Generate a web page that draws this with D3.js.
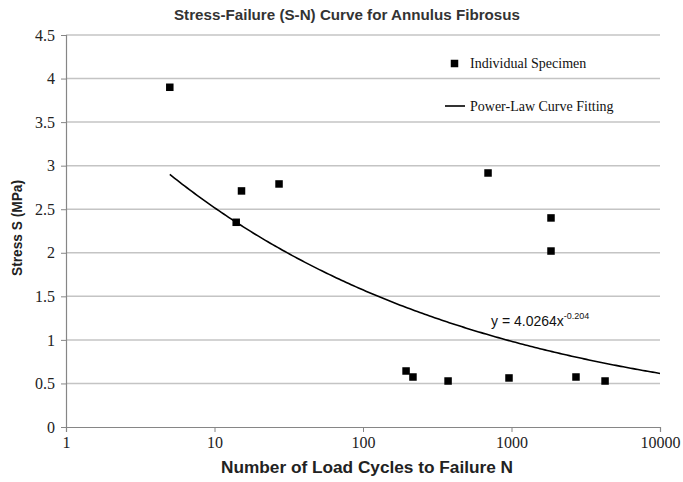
<!DOCTYPE html>
<html><head><meta charset="utf-8">
<script src="https://cdn.jsdelivr.net/npm/d3@7"></script>
<style>body{margin:0;background:#fff}svg{display:block}
.ax text{font-family:'Liberation Serif','Times New Roman',serif !important;font-size:16px;fill:#222}</style>
</head><body>
<script>
// Data
const cycles = [5, 14, 15.2, 27.2, 195, 217, 374, 695, 962, 1845, 1845, 2718, 4266];
const stress = [3.90, 2.35, 2.71, 2.79, 0.643, 0.574, 0.528, 2.916, 0.563, 2.40, 2.02, 0.574, 0.528];
const fitA = 4.0264, fitB = -0.204;
const fitRange = [5, 10000];
const xTicks = [1, 10, 100, 1000, 10000];
const yTicks = [0, 0.5, 1, 1.5, 2, 2.5, 3, 3.5, 4, 4.5];
const title = "Stress-Failure (S-N) Curve for Annulus Fibrosus";
const xTitle = "Number of Load Cycles to Failure N";
const yTitle = "Stress S (MPa)";
const legendLabels = ["Individual Specimen", "Power-Law Curve Fitting"];

const W = 683, H = 482;
const m = {l: 66, r: 23, t: 35, b: 55};
const svg = d3.select("body").append("svg").attr("width", W).attr("height", H);

const x = d3.scaleLog().domain([1, 10000]).range([m.l, W - m.r]);
const y = d3.scaleLinear().domain([0, 4.5]).range([H - m.b, m.t]);

// gridlines
svg.append("g").selectAll("line").data(yTicks.filter(d => d > 0)).join("line")
  .attr("x1", m.l).attr("x2", W - m.r)
  .attr("y1", d => y(d)).attr("y2", d => y(d))
  .attr("stroke", "#c4c4c4").attr("stroke-width", 1.5);

// y axis
const yAxis = svg.append("g").attr("class", "ax").attr("transform", `translate(${m.l},0)`)
  .call(d3.axisLeft(y).tickValues(yTicks).tickFormat(d3.format("")).tickSize(5).tickPadding(6));
// x axis
const xAxis = svg.append("g").attr("class", "ax").attr("transform", `translate(0,${H - m.b})`)
  .call(d3.axisBottom(x).tickValues(xTicks).tickFormat(d3.format("")).tickSize(5).tickPadding(5));
[yAxis, xAxis].forEach(g => {
  g.attr("font-family", "'Liberation Serif','Times New Roman',serif").attr("font-size", 16);
  g.select(".domain").attr("stroke", "#868686").attr("stroke-width", 1.2);
  g.selectAll(".tick line").attr("stroke", "#868686");
});

// fitted curve
const curvePts = d3.range(0, 201).map(i => {
  const lx = Math.log10(fitRange[0]) + (Math.log10(fitRange[1]) - Math.log10(fitRange[0])) * i / 200;
  const xv = Math.pow(10, lx);
  return [xv, fitA * Math.pow(xv, fitB)];
});
svg.append("path").datum(curvePts)
  .attr("d", d3.line().x(d => x(d[0])).y(d => y(d[1])))
  .attr("fill", "none").attr("stroke", "#000").attr("stroke-width", 1.6);

// points
const ms = 7.5;
svg.append("g").selectAll("rect").data(cycles.map((c, i) => [c, stress[i]])).join("rect")
  .attr("x", d => x(d[0]) - ms / 2).attr("y", d => y(d[1]) - ms / 2)
  .attr("width", ms).attr("height", ms).attr("fill", "#000");

// equation
const eq = svg.append("text").attr("x", 491).attr("y", 326)
  .attr("font-family", "'Liberation Sans',Arial,sans-serif").attr("font-size", 14).attr("fill", "#111");
eq.append("tspan").text(`y = ${fitA}x`);
eq.append("tspan").attr("dy", -7).attr("font-size", 9).text(`${fitB}`);

// legend
svg.append("rect").attr("x", 454.5 - ms / 2).attr("y", 63.5 - ms / 2).attr("width", ms).attr("height", ms).attr("fill", "#000");
svg.append("line").attr("x1", 445).attr("x2", 465).attr("y1", 106).attr("y2", 106).attr("stroke", "#000").attr("stroke-width", 1.6);
const lf = "'Liberation Serif','Times New Roman',serif";
svg.append("text").attr("x", 470).attr("y", 68).attr("font-family", lf).attr("font-size", 14).attr("fill", "#111").text(legendLabels[0]);
svg.append("text").attr("x", 470).attr("y", 111).attr("font-family", lf).attr("font-size", 14).attr("fill", "#111").text(legendLabels[1]);

// titles
svg.append("text").attr("x", 347).attr("y", 20).attr("text-anchor", "middle")
  .attr("font-family", "'Liberation Sans Narrow','Liberation Sans',Arial,sans-serif").attr("font-weight", "bold")
  .attr("font-size", 15).attr("fill", "#333")
  .attr("textLength", 346).attr("lengthAdjust", "spacingAndGlyphs").text(title);
svg.append("text").attr("x", 367).attr("y", 473).attr("text-anchor", "middle")
  .attr("font-family", "'Liberation Sans',Arial,sans-serif").attr("font-weight", "bold")
  .attr("font-size", 16).attr("fill", "#222")
  .attr("textLength", 292).attr("lengthAdjust", "spacingAndGlyphs").text(xTitle);
svg.append("text").attr("transform", "translate(22,228) rotate(-90)").attr("text-anchor", "middle")
  .attr("font-family", "'Liberation Sans',Arial,sans-serif").attr("font-weight", "bold")
  .attr("font-size", 14).attr("fill", "#222")
  .attr("textLength", 96).attr("lengthAdjust", "spacingAndGlyphs").text(yTitle);
</script>
</body></html>
